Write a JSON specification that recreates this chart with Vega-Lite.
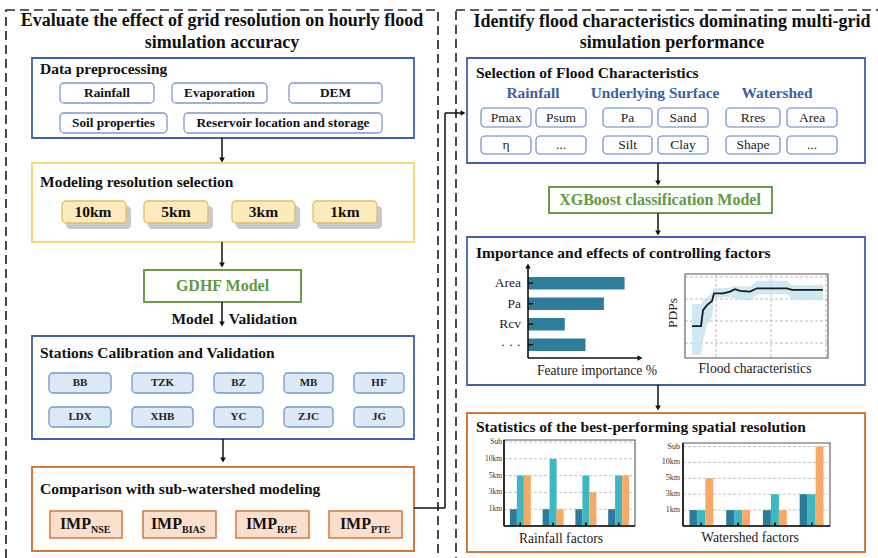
{
"$schema":"https://vega.github.io/schema/vega-lite/v6.json",
"width":878,"height":558,"padding":0,"autosize":{"type":"none"},
"background":"white",
"config":{"view":{"stroke":null},"font":"Liberation Serif, Times New Roman, DejaVu Serif, serif","text":{"font":"Liberation Serif, Times New Roman, DejaVu Serif, serif"}},
"datasets":{
"frames":[{"x":6,"x2":438,"y":10,"y2":566},{"x":456,"x2":892,"y":10,"y2":566}],
"blueBoxes":[{"x":32,"x2":414,"y":58,"y2":138},{"x":32,"x2":414,"y":336,"y2":439},{"x":467,"x2":865,"y":58,"y2":163},{"x":467,"x2":865,"y":237,"y2":385}],
"yellowBoxes":[{"x":32,"x2":414,"y":163,"y2":242}],
"orangeBoxes":[{"x":32,"x2":414,"y":467,"y2":551},{"x":467,"x2":865,"y":413,"y2":552}],
"greenBoxes":[{"x":144,"x2":301,"y":270,"y2":302},{"x":549,"x2":772,"y":187,"y2":213}],
"dataChips":[{"x":60,"x2":154,"y":83,"y2":103},{"x":172,"x2":267,"y":83,"y2":103},{"x":289,"x2":382,"y":83,"y2":103},{"x":60,"x2":167,"y":113,"y2":133},{"x":184,"x2":382,"y":113,"y2":133}],
"resShadows":[{"x":66,"x2":131,"y":206,"y2":229},{"x":148,"x2":213,"y":206,"y2":229},{"x":236,"x2":300,"y":206,"y2":229},{"x":317,"x2":382,"y":206,"y2":229}],
"resChips":[{"x":62,"x2":126,"y":201,"y2":223},{"x":144,"x2":208,"y":201,"y2":223},{"x":232,"x2":295,"y":201,"y2":223},{"x":313,"x2":377,"y":201,"y2":223}],
"stationChips":[{"x":49,"x2":111,"y":373,"y2":393},{"x":132,"x2":193,"y":373,"y2":393},{"x":214,"x2":263,"y":373,"y2":393},{"x":284,"x2":333,"y":373,"y2":393},{"x":354,"x2":404,"y":373,"y2":393},{"x":49,"x2":111,"y":407,"y2":427},{"x":132,"x2":193,"y":407,"y2":427},{"x":214,"x2":263,"y":407,"y2":427},{"x":284,"x2":333,"y":407,"y2":427},{"x":354,"x2":404,"y":407,"y2":427}],
"impChips":[{"x":50,"x2":122,"y":511,"y2":538},{"x":143,"x2":216,"y":511,"y2":538},{"x":236,"x2":309,"y":511,"y2":538},{"x":329,"x2":402,"y":511,"y2":538}],
"featChips":[{"x":481,"x2":531,"y":108,"y2":127},{"x":536,"x2":586,"y":108,"y2":127},{"x":603,"x2":652,"y":108,"y2":127},{"x":658,"x2":708,"y":108,"y2":127},{"x":726,"x2":780,"y":108,"y2":127},{"x":787,"x2":837,"y":108,"y2":127},{"x":481,"x2":531,"y":136,"y2":154},{"x":536,"x2":586,"y":136,"y2":154},{"x":603,"x2":652,"y":136,"y2":154},{"x":658,"x2":708,"y":136,"y2":154},{"x":726,"x2":780,"y":136,"y2":154},{"x":787,"x2":837,"y":136,"y2":154}],
"plotFrames":[{"x":685,"x2":828,"y":274,"y2":358},{"x":504,"x2":635,"y":440,"y2":526},{"x":683,"x2":830,"y":443,"y2":526}],
"gridLines":[{"x":685,"x2":828,"y":277,"y2":277},{"x":685,"x2":828,"y":299,"y2":299},{"x":685,"x2":828,"y":321,"y2":321},{"x":685,"x2":828,"y":343,"y2":343},{"x":716,"x2":716,"y":274,"y2":358},{"x":771,"x2":771,"y":274,"y2":358},{"x":826,"x2":826,"y":274,"y2":358}],
"axisLines":[{"x":504,"x2":504,"y":440,"y2":526},{"x":504,"x2":635,"y":526,"y2":526},{"x":683,"x2":683,"y":443,"y2":526},{"x":683,"x2":830,"y":526,"y2":526},{"x":528,"x2":528,"y":358,"y2":267},{"x":528,"x2":640,"y":358,"y2":358}],
"arrowLines":[{"x":222,"y":138,"x2":222,"y2":160},{"x":222,"y":242,"x2":222,"y2":265},{"x":222,"y":302,"x2":222,"y2":324},{"x":223,"y":439,"x2":223,"y2":460},{"x":414,"y":508,"x2":445,"y2":508},{"x":445,"y":508,"x2":445,"y2":113},{"x":445,"y":113,"x2":462,"y2":113},{"x":658,"y":163,"x2":658,"y2":183},{"x":658,"y":213,"x2":658,"y2":233},{"x":658,"y":385,"x2":658,"y2":408}],
"headsDown":[{"x":222,"y":160},{"x":222,"y":265},{"x":222,"y":324},{"x":223,"y":460},{"x":658,"y":183},{"x":658,"y":233},{"x":658,"y":408}],
"headsRight":[{"x":463,"y":113},{"x":640,"y":358}],
"headsUp":[{"x":528,"y":266}],
"titles":[{"x":222,"y":21,"t":"Evaluate the effect of grid resolution on hourly flood"},{"x":222,"y":43,"t":"simulation accuracy"},{"x":672,"y":22,"t":"Identify flood characteristics dominating multi-grid"},{"x":672,"y":43,"t":"simulation performance"}],
"boxTitles":[{"x":40,"y":69,"t":"Data preprocessing"},{"x":40,"y":182,"t":"Modeling resolution selection"},{"x":40,"y":353,"t":"Stations Calibration and Validation"},{"x":40,"y":489,"t":"Comparison with sub-watershed modeling"},{"x":476,"y":73,"t":"Selection of Flood Characteristics"},{"x":476,"y":253,"t":"Importance and effects of controlling factors"},{"x":476,"y":427,"t":"Statistics of the best-performing spatial resolution"}],
"dataChipText":[{"x":107,"y":93,"t":"Rainfall"},{"x":219.5,"y":93,"t":"Evaporation"},{"x":335.5,"y":93,"t":"DEM"},{"x":113.5,"y":123,"t":"Soil properties"},{"x":283,"y":123,"t":"Reservoir location and storage"}],
"resText":[{"x":93,"y":212,"t":"10km"},{"x":176,"y":212,"t":"5km"},{"x":263.5,"y":212,"t":"3km"},{"x":345,"y":212,"t":"1km"}],
"stationText":[{"x":80,"y":383,"t":"BB"},{"x":162.5,"y":383,"t":"TZK"},{"x":238.5,"y":383,"t":"BZ"},{"x":308.5,"y":383,"t":"MB"},{"x":379,"y":383,"t":"HF"},{"x":80,"y":417,"t":"LDX"},{"x":162.5,"y":417,"t":"XHB"},{"x":238.5,"y":417,"t":"YC"},{"x":308.5,"y":417,"t":"ZJC"},{"x":379,"y":417,"t":"JG"}],
"impText":[{"x":91,"y":524,"t":"IMP"},{"x":182,"y":524,"t":"IMP"},{"x":277,"y":524,"t":"IMP"},{"x":371,"y":524,"t":"IMP"}],
"impSub":[{"x":91,"y":530,"t":"NSE"},{"x":182,"y":530,"t":"BIAS"},{"x":277,"y":530,"t":"RPE"},{"x":371,"y":530,"t":"PTE"}],
"greenText":[{"x":222.5,"y":286,"t":"GDHF Model"},{"x":660,"y":200,"t":"XGBoost classification  Model"}],
"mvText":[{"x":192.5,"y":319,"t":"Model"},{"x":263,"y":319,"t":"Validation"}],
"catText":[{"x":533,"y":93,"t":"Rainfall"},{"x":655,"y":93,"t":"Underlying Surface"},{"x":777,"y":93,"t":"Watershed"}],
"featText":[{"x":506,"y":117.5,"t":"Pmax"},{"x":561,"y":117.5,"t":"Psum"},{"x":627.5,"y":117.5,"t":"Pa"},{"x":683,"y":117.5,"t":"Sand"},{"x":753,"y":117.5,"t":"Rres"},{"x":812,"y":117.5,"t":"Area"},{"x":506,"y":145,"t":"η"},{"x":561,"y":145,"t":"..."},{"x":627.5,"y":145,"t":"Silt"},{"x":683,"y":145,"t":"Clay"},{"x":753,"y":145,"t":"Shape"},{"x":812,"y":145,"t":"..."}],
"captions":[{"x":597,"y":371,"t":"Feature importance %"},{"x":755,"y":369,"t":"Flood characteristics"},{"x":561,"y":539,"t":"Rainfall factors"},{"x":750,"y":538,"t":"Watershed factors"}],
"pdpLabel":[{"x":673,"y":313,"t":"PDPs"}],
"importance":[{"feature":"Area","importance":42},{"feature":"Pa","importance":33},{"feature":"Rcv","importance":16},{"feature":"· · ·","importance":25}],
"pdp":[{"x":4.9,"pdp":0.38,"lo":0.04,"hi":0.64},{"x":11.2,"pdp":0.38,"lo":0.04,"hi":0.64},{"x":12.6,"pdp":0.57,"lo":0.2,"hi":0.69},{"x":15.4,"pdp":0.63,"lo":0.39,"hi":0.72},{"x":18.9,"pdp":0.68,"lo":0.48,"hi":0.77},{"x":20.3,"pdp":0.77,"lo":0.71,"hi":0.83},{"x":26.6,"pdp":0.77,"lo":0.72,"hi":0.83},{"x":31.5,"pdp":0.79,"lo":0.73,"hi":0.84},{"x":35,"pdp":0.82,"lo":0.71,"hi":0.86},{"x":38.5,"pdp":0.8,"lo":0.7,"hi":0.85},{"x":45.5,"pdp":0.79,"lo":0.68,"hi":0.85},{"x":50.3,"pdp":0.83,"lo":0.76,"hi":0.92},{"x":71.3,"pdp":0.83,"lo":0.76,"hi":0.92},{"x":74.8,"pdp":0.81,"lo":0.69,"hi":0.87},{"x":96.5,"pdp":0.81,"lo":0.69,"hi":0.87}],
"levels":[{"level":1,"label":"1km"},{"level":2,"label":"3km"},{"level":3,"label":"5km"},{"level":4,"label":"10km"},{"level":5,"label":"Sub"}],
"rainStats":[{"factor":"F1","series":"s1","level":1},{"factor":"F1","series":"s2","level":3},{"factor":"F1","series":"s3","level":3},{"factor":"F2","series":"s1","level":1},{"factor":"F2","series":"s2","level":4},{"factor":"F2","series":"s3","level":1},{"factor":"F3","series":"s1","level":1},{"factor":"F3","series":"s2","level":3},{"factor":"F3","series":"s3","level":2},{"factor":"F4","series":"s1","level":1},{"factor":"F4","series":"s2","level":3},{"factor":"F4","series":"s3","level":3}],
"shedStats":[{"factor":"W1","series":"s1","level":1},{"factor":"W1","series":"s2","level":1},{"factor":"W1","series":"s3","level":3},{"factor":"W2","series":"s1","level":1},{"factor":"W2","series":"s2","level":1},{"factor":"W2","series":"s3","level":1},{"factor":"W3","series":"s1","level":1},{"factor":"W3","series":"s2","level":2},{"factor":"W3","series":"s3","level":1},{"factor":"W4","series":"s1","level":2},{"factor":"W4","series":"s2","level":2},{"factor":"W4","series":"s3","level":5}]
},
"layer":[
{"layer":[
{"data":{"name":"frames"},"mark":{"type":"rect","filled":false,"stroke":"#2b2b2b","strokeWidth":1.7,"strokeDash":[9,5]},
 "encoding":{"x":{"field":"x","type":"quantitative","scale":{"domain":[0,878],"range":[0,878],"nice":false,"zero":false},"axis":null},"x2":{"field":"x2"},"y":{"field":"y","type":"quantitative","scale":{"domain":[0,558],"range":[0,558],"nice":false,"zero":false},"axis":null},"y2":{"field":"y2"}}},
{"data":{"name":"blueBoxes"},"mark":{"type":"rect","fill":"white","stroke":"#3f62aa","strokeWidth":1.8},
 "encoding":{"x":{"field":"x","type":"quantitative","scale":{"domain":[0,878],"range":[0,878],"nice":false,"zero":false},"axis":null},"x2":{"field":"x2"},"y":{"field":"y","type":"quantitative","scale":{"domain":[0,558],"range":[0,558],"nice":false,"zero":false},"axis":null},"y2":{"field":"y2"}}},
{"data":{"name":"yellowBoxes"},"mark":{"type":"rect","fill":"white","stroke":"#fad77c","strokeWidth":2},
 "encoding":{"x":{"field":"x","type":"quantitative","scale":{"domain":[0,878],"range":[0,878],"nice":false,"zero":false},"axis":null},"x2":{"field":"x2"},"y":{"field":"y","type":"quantitative","scale":{"domain":[0,558],"range":[0,558],"nice":false,"zero":false},"axis":null},"y2":{"field":"y2"}}},
{"data":{"name":"orangeBoxes"},"mark":{"type":"rect","fill":"white","stroke":"#d8763c","strokeWidth":2},
 "encoding":{"x":{"field":"x","type":"quantitative","scale":{"domain":[0,878],"range":[0,878],"nice":false,"zero":false},"axis":null},"x2":{"field":"x2"},"y":{"field":"y","type":"quantitative","scale":{"domain":[0,558],"range":[0,558],"nice":false,"zero":false},"axis":null},"y2":{"field":"y2"}}},
{"data":{"name":"greenBoxes"},"mark":{"type":"rect","fill":"white","stroke":"#6c9c48","strokeWidth":2},
 "encoding":{"x":{"field":"x","type":"quantitative","scale":{"domain":[0,878],"range":[0,878],"nice":false,"zero":false},"axis":null},"x2":{"field":"x2"},"y":{"field":"y","type":"quantitative","scale":{"domain":[0,558],"range":[0,558],"nice":false,"zero":false},"axis":null},"y2":{"field":"y2"}}},
{"data":{"name":"dataChips"},"mark":{"type":"rect","fill":"white","stroke":"#7d99cb","strokeWidth":1.3,"cornerRadius":4},
 "encoding":{"x":{"field":"x","type":"quantitative","scale":{"domain":[0,878],"range":[0,878],"nice":false,"zero":false},"axis":null},"x2":{"field":"x2"},"y":{"field":"y","type":"quantitative","scale":{"domain":[0,558],"range":[0,558],"nice":false,"zero":false},"axis":null},"y2":{"field":"y2"}}},
{"data":{"name":"resShadows"},"mark":{"type":"rect","fill":"#c9c9c9","cornerRadius":4},
 "encoding":{"x":{"field":"x","type":"quantitative","scale":{"domain":[0,878],"range":[0,878],"nice":false,"zero":false},"axis":null},"x2":{"field":"x2"},"y":{"field":"y","type":"quantitative","scale":{"domain":[0,558],"range":[0,558],"nice":false,"zero":false},"axis":null},"y2":{"field":"y2"}}},
{"data":{"name":"resChips"},"mark":{"type":"rect","fill":"#fdeabd","stroke":"#e2bd66","strokeWidth":1.3,"cornerRadius":4},
 "encoding":{"x":{"field":"x","type":"quantitative","scale":{"domain":[0,878],"range":[0,878],"nice":false,"zero":false},"axis":null},"x2":{"field":"x2"},"y":{"field":"y","type":"quantitative","scale":{"domain":[0,558],"range":[0,558],"nice":false,"zero":false},"axis":null},"y2":{"field":"y2"}}},
{"data":{"name":"stationChips"},"mark":{"type":"rect","fill":"#dce9f6","stroke":"#7096ca","strokeWidth":1.3,"cornerRadius":4},
 "encoding":{"x":{"field":"x","type":"quantitative","scale":{"domain":[0,878],"range":[0,878],"nice":false,"zero":false},"axis":null},"x2":{"field":"x2"},"y":{"field":"y","type":"quantitative","scale":{"domain":[0,558],"range":[0,558],"nice":false,"zero":false},"axis":null},"y2":{"field":"y2"}}},
{"data":{"name":"impChips"},"mark":{"type":"rect","fill":"#fbdfcd","stroke":"#d9773c","strokeWidth":1.5},
 "encoding":{"x":{"field":"x","type":"quantitative","scale":{"domain":[0,878],"range":[0,878],"nice":false,"zero":false},"axis":null},"x2":{"field":"x2"},"y":{"field":"y","type":"quantitative","scale":{"domain":[0,558],"range":[0,558],"nice":false,"zero":false},"axis":null},"y2":{"field":"y2"}}},
{"data":{"name":"featChips"},"mark":{"type":"rect","fill":"white","stroke":"#5d80c3","strokeWidth":1.1,"cornerRadius":4},
 "encoding":{"x":{"field":"x","type":"quantitative","scale":{"domain":[0,878],"range":[0,878],"nice":false,"zero":false},"axis":null},"x2":{"field":"x2"},"y":{"field":"y","type":"quantitative","scale":{"domain":[0,558],"range":[0,558],"nice":false,"zero":false},"axis":null},"y2":{"field":"y2"}}},
{"data":{"name":"gridLines"},"mark":{"type":"rule","stroke":"#b5b5b5","strokeWidth":0.9,"strokeDash":[3,2]},
 "encoding":{"x":{"field":"x","type":"quantitative","scale":{"domain":[0,878],"range":[0,878],"nice":false,"zero":false},"axis":null},"x2":{"field":"x2"},"y":{"field":"y","type":"quantitative","scale":{"domain":[0,558],"range":[0,558],"nice":false,"zero":false},"axis":null},"y2":{"field":"y2"}}},
{"data":{"name":"plotFrames"},"mark":{"type":"rect","filled":false,"stroke":"#555555","strokeWidth":1.1},
 "encoding":{"x":{"field":"x","type":"quantitative","scale":{"domain":[0,878],"range":[0,878],"nice":false,"zero":false},"axis":null},"x2":{"field":"x2"},"y":{"field":"y","type":"quantitative","scale":{"domain":[0,558],"range":[0,558],"nice":false,"zero":false},"axis":null},"y2":{"field":"y2"}}},
{"data":{"name":"arrowLines"},"mark":{"type":"rule","stroke":"#111111","strokeWidth":1.5},
 "encoding":{"x":{"field":"x","type":"quantitative","scale":{"domain":[0,878],"range":[0,878],"nice":false,"zero":false},"axis":null},"x2":{"field":"x2"},"y":{"field":"y","type":"quantitative","scale":{"domain":[0,558],"range":[0,558],"nice":false,"zero":false},"axis":null},"y2":{"field":"y2"}}},
{"data":{"name":"headsDown"},"mark":{"type":"point","shape":"triangle-down","filled":true,"fill":"#111111","size":32,"opacity":1},
 "encoding":{"x":{"field":"x","type":"quantitative","scale":{"domain":[0,878],"range":[0,878],"nice":false,"zero":false},"axis":null},"y":{"field":"y","type":"quantitative","scale":{"domain":[0,558],"range":[0,558],"nice":false,"zero":false},"axis":null}}},
{"data":{"name":"titles"},"mark":{"type":"text","fontWeight":"bold","fontSize":18,"align":"center","baseline":"middle","fill":"#111111"},
 "encoding":{"x":{"field":"x","type":"quantitative","scale":{"domain":[0,878],"range":[0,878],"nice":false,"zero":false},"axis":null},"y":{"field":"y","type":"quantitative","scale":{"domain":[0,558],"range":[0,558],"nice":false,"zero":false},"axis":null},"text":{"field":"t"}}},
{"data":{"name":"boxTitles"},"mark":{"type":"text","fontWeight":"bold","fontSize":15.5,"align":"left","baseline":"middle","fill":"#111111"},
 "encoding":{"x":{"field":"x","type":"quantitative","scale":{"domain":[0,878],"range":[0,878],"nice":false,"zero":false},"axis":null},"y":{"field":"y","type":"quantitative","scale":{"domain":[0,558],"range":[0,558],"nice":false,"zero":false},"axis":null},"text":{"field":"t"}}},
{"data":{"name":"dataChipText"},"mark":{"type":"text","fontWeight":"bold","fontSize":13.3,"align":"center","baseline":"middle","fill":"#111111"},
 "encoding":{"x":{"field":"x","type":"quantitative","scale":{"domain":[0,878],"range":[0,878],"nice":false,"zero":false},"axis":null},"y":{"field":"y","type":"quantitative","scale":{"domain":[0,558],"range":[0,558],"nice":false,"zero":false},"axis":null},"text":{"field":"t"}}},
{"data":{"name":"resText"},"mark":{"type":"text","fontWeight":"bold","fontSize":15.5,"align":"center","baseline":"middle","fill":"#111111"},
 "encoding":{"x":{"field":"x","type":"quantitative","scale":{"domain":[0,878],"range":[0,878],"nice":false,"zero":false},"axis":null},"y":{"field":"y","type":"quantitative","scale":{"domain":[0,558],"range":[0,558],"nice":false,"zero":false},"axis":null},"text":{"field":"t"}}},
{"data":{"name":"stationText"},"mark":{"type":"text","fontWeight":"bold","fontSize":11,"align":"center","baseline":"middle","fill":"#222222"},
 "encoding":{"x":{"field":"x","type":"quantitative","scale":{"domain":[0,878],"range":[0,878],"nice":false,"zero":false},"axis":null},"y":{"field":"y","type":"quantitative","scale":{"domain":[0,558],"range":[0,558],"nice":false,"zero":false},"axis":null},"text":{"field":"t"}}},
{"data":{"name":"impText"},"mark":{"type":"text","fontWeight":"bold","fontSize":16,"align":"right","baseline":"middle","fill":"#111111"},
 "encoding":{"x":{"field":"x","type":"quantitative","scale":{"domain":[0,878],"range":[0,878],"nice":false,"zero":false},"axis":null},"y":{"field":"y","type":"quantitative","scale":{"domain":[0,558],"range":[0,558],"nice":false,"zero":false},"axis":null},"text":{"field":"t"}}},
{"data":{"name":"impSub"},"mark":{"type":"text","fontWeight":"bold","fontSize":10,"align":"left","baseline":"middle","fill":"#111111"},
 "encoding":{"x":{"field":"x","type":"quantitative","scale":{"domain":[0,878],"range":[0,878],"nice":false,"zero":false},"axis":null},"y":{"field":"y","type":"quantitative","scale":{"domain":[0,558],"range":[0,558],"nice":false,"zero":false},"axis":null},"text":{"field":"t"}}},
{"data":{"name":"greenText"},"mark":{"type":"text","fontWeight":"bold","fontSize":16,"align":"center","baseline":"middle","fill":"#5f9a3e"},
 "encoding":{"x":{"field":"x","type":"quantitative","scale":{"domain":[0,878],"range":[0,878],"nice":false,"zero":false},"axis":null},"y":{"field":"y","type":"quantitative","scale":{"domain":[0,558],"range":[0,558],"nice":false,"zero":false},"axis":null},"text":{"field":"t"}}},
{"data":{"name":"mvText"},"mark":{"type":"text","fontWeight":"bold","fontSize":15.5,"align":"center","baseline":"middle","fill":"#111111"},
 "encoding":{"x":{"field":"x","type":"quantitative","scale":{"domain":[0,878],"range":[0,878],"nice":false,"zero":false},"axis":null},"y":{"field":"y","type":"quantitative","scale":{"domain":[0,558],"range":[0,558],"nice":false,"zero":false},"axis":null},"text":{"field":"t"}}},
{"data":{"name":"catText"},"mark":{"type":"text","fontWeight":"bold","fontSize":15.4,"align":"center","baseline":"middle","fill":"#3c5fa9"},
 "encoding":{"x":{"field":"x","type":"quantitative","scale":{"domain":[0,878],"range":[0,878],"nice":false,"zero":false},"axis":null},"y":{"field":"y","type":"quantitative","scale":{"domain":[0,558],"range":[0,558],"nice":false,"zero":false},"axis":null},"text":{"field":"t"}}},
{"data":{"name":"featText"},"mark":{"type":"text","fontSize":13.5,"align":"center","baseline":"middle","fill":"#222222"},
 "encoding":{"x":{"field":"x","type":"quantitative","scale":{"domain":[0,878],"range":[0,878],"nice":false,"zero":false},"axis":null},"y":{"field":"y","type":"quantitative","scale":{"domain":[0,558],"range":[0,558],"nice":false,"zero":false},"axis":null},"text":{"field":"t"}}},
{"data":{"name":"captions"},"mark":{"type":"text","fontSize":13.6,"align":"center","baseline":"middle","fill":"#222222"},
 "encoding":{"x":{"field":"x","type":"quantitative","scale":{"domain":[0,878],"range":[0,878],"nice":false,"zero":false},"axis":null},"y":{"field":"y","type":"quantitative","scale":{"domain":[0,558],"range":[0,558],"nice":false,"zero":false},"axis":null},"text":{"field":"t"}}},
{"data":{"name":"pdpLabel"},"mark":{"type":"text","fontSize":13.5,"align":"center","baseline":"middle","angle":270,"fill":"#222222"},
 "encoding":{"x":{"field":"x","type":"quantitative","scale":{"domain":[0,878],"range":[0,878],"nice":false,"zero":false},"axis":null},"y":{"field":"y","type":"quantitative","scale":{"domain":[0,558],"range":[0,558],"nice":false,"zero":false},"axis":null},"text":{"field":"t"}}}
]},
{"data":{"name":"importance"},"layer":[
{"mark":{"type":"bar","fill":"#2e7e9b"},
 "encoding":{"x":{"field":"importance","type":"quantitative","scale":{"domain":[0,50],"range":[528,643],"nice":false},"axis":null},"y":{"field":"feature","type":"nominal","sort":null,"scale":{"domain":["Area","Pa","Rcv","· · ·"],"range":[273,355],"paddingInner":0.39,"paddingOuter":0.195},"axis":null}}},
{"mark":{"type":"rule","stroke":"#111111","strokeWidth":1.5},
 "encoding":{"x":{"datum":0,"type":"quantitative"},"x2":{"datum":2.2},"y":{"field":"feature","type":"nominal","sort":null}}},
{"mark":{"type":"text","fontSize":13.5,"align":"right","baseline":"middle","fill":"#222222"},
 "encoding":{"x":{"datum":-3,"type":"quantitative"},"y":{"field":"feature","type":"nominal","sort":null},"text":{"field":"feature"}}}
]},
{"data":{"name":"pdp"},"layer":[
{"mark":{"type":"area","fill":"#bfe0ee","opacity":0.75},
 "encoding":{"x":{"field":"x","type":"quantitative","scale":{"domain":[0,100],"range":[685,828],"nice":false,"zero":false},"axis":null},"y":{"field":"lo","type":"quantitative","scale":{"domain":[0,1],"range":[358,274],"nice":false,"zero":false},"axis":null},"y2":{"field":"hi"}}},
{"mark":{"type":"line","stroke":"#1a1a1a","strokeWidth":1.8},
 "encoding":{"x":{"field":"x","type":"quantitative"},"y":{"field":"pdp","type":"quantitative"}}}
]},
{"data":{"name":"levels"},"layer":[
{"mark":{"type":"rule","stroke":"#bbbbbb","strokeWidth":0.9,"strokeDash":[3,2]},
 "encoding":{"x":{"datum":504,"type":"quantitative","scale":{"domain":[0,878],"range":[0,878],"nice":false,"zero":false},"axis":null},"x2":{"datum":635},"y":{"field":"level","type":"quantitative","scale":{"domain":[0,5],"range":[526,442],"nice":false,"zero":false},"axis":null}}},
{"mark":{"type":"text","fontSize":7.5,"align":"right","baseline":"middle","fill":"#333333"},
 "encoding":{"x":{"datum":502,"type":"quantitative"},"y":{"field":"level","type":"quantitative"},"text":{"field":"label"}}}
]},
{"data":{"name":"levels"},"layer":[
{"mark":{"type":"rule","stroke":"#bbbbbb","strokeWidth":0.9,"strokeDash":[3,2]},
 "encoding":{"x":{"datum":683,"type":"quantitative","scale":{"domain":[0,878],"range":[0,878],"nice":false,"zero":false},"axis":null},"x2":{"datum":830},"y":{"field":"level","type":"quantitative","scale":{"domain":[0,5],"range":[526,446.5],"nice":false,"zero":false},"axis":null}}},
{"mark":{"type":"text","fontSize":8,"align":"right","baseline":"middle","fill":"#333333"},
 "encoding":{"x":{"datum":680,"type":"quantitative"},"y":{"field":"level","type":"quantitative"},"text":{"field":"label"}}}
]},
{"data":{"name":"rainStats"},"layer":[
{"mark":{"type":"bar"},
 "encoding":{"x":{"field":"factor","type":"nominal","scale":{"domain":["F1","F2","F3","F4"],"range":[504,635],"paddingInner":0.36,"paddingOuter":0.18},"axis":null},
  "xOffset":{"field":"series","type":"nominal","scale":{"domain":["s1","s2","s3"],"paddingInner":0,"paddingOuter":0}},
  "y":{"field":"level","type":"quantitative","scale":{"domain":[0,5],"range":[526,442],"nice":false},"axis":null},
  "color":{"field":"series","type":"nominal","scale":{"domain":["s1","s2","s3"],"range":["#2d7b99","#3db7c1","#f5aa66"]},"legend":null}}},
{"mark":{"type":"rule","stroke":"#111111","strokeWidth":1.2},
 "encoding":{"x":{"field":"factor","type":"nominal"},"y":{"datum":0,"type":"quantitative"},"y2":{"datum":0.2}}}
]},
{"data":{"name":"shedStats"},"layer":[
{"mark":{"type":"bar"},
 "encoding":{"x":{"field":"factor","type":"nominal","scale":{"domain":["W1","W2","W3","W4"],"range":[683,830],"paddingInner":0.35,"paddingOuter":0.175},"axis":null},
  "xOffset":{"field":"series","type":"nominal","scale":{"domain":["s1","s2","s3"],"paddingInner":0,"paddingOuter":0}},
  "y":{"field":"level","type":"quantitative","scale":{"domain":[0,5],"range":[526,446.5],"nice":false},"axis":null},
  "color":{"field":"series","type":"nominal","scale":{"domain":["s1","s2","s3"],"range":["#2d7b99","#3db7c1","#f5aa66"]},"legend":null}}},
{"mark":{"type":"rule","stroke":"#111111","strokeWidth":1.2},
 "encoding":{"x":{"field":"factor","type":"nominal"},"y":{"datum":0,"type":"quantitative"},"y2":{"datum":0.2}}}
]},
{"data":{"name":"axisLines"},"layer":[
{"mark":{"type":"rule","stroke":"#111111","strokeWidth":1.6},
 "encoding":{"x":{"field":"x","type":"quantitative","scale":{"domain":[0,878],"range":[0,878],"nice":false,"zero":false},"axis":null},"x2":{"field":"x2"},"y":{"field":"y","type":"quantitative","scale":{"domain":[0,558],"range":[0,558],"nice":false,"zero":false},"axis":null},"y2":{"field":"y2"}}},
{"data":{"name":"headsRight"},"mark":{"type":"point","shape":"triangle-right","filled":true,"fill":"#111111","size":32,"opacity":1},
 "encoding":{"x":{"field":"x","type":"quantitative"},"y":{"field":"y","type":"quantitative"}}},
{"data":{"name":"headsUp"},"mark":{"type":"point","shape":"triangle-up","filled":true,"fill":"#111111","size":32,"opacity":1},
 "encoding":{"x":{"field":"x","type":"quantitative"},"y":{"field":"y","type":"quantitative"}}}
]}
],
"resolve":{"scale":{"x":"independent","y":"independent","xOffset":"independent","color":"independent"}}
}
